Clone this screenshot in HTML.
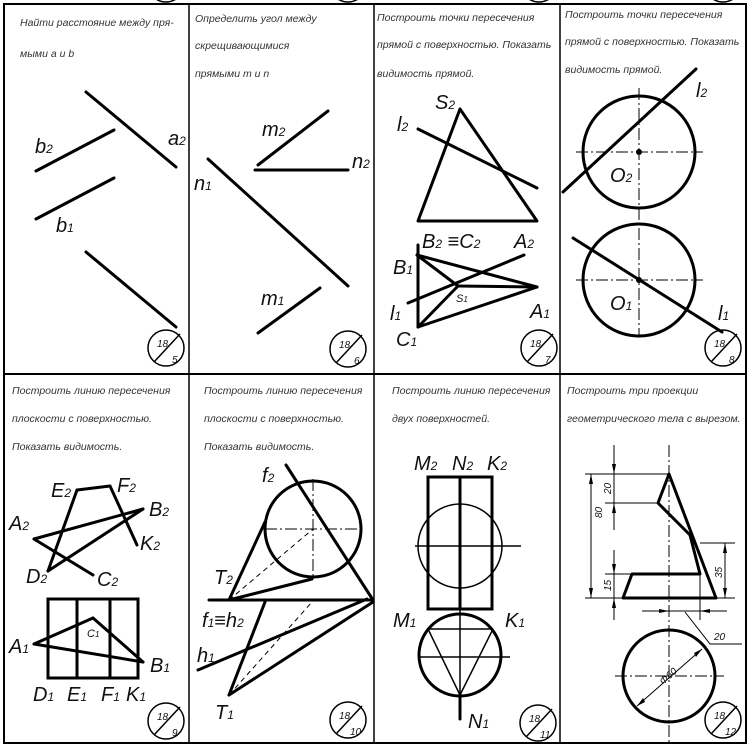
<!DOCTYPE html>
<html><head><meta charset="utf-8"><style>
html,body{margin:0;padding:0;background:#fff}
svg{display:block}
text{font-family:"Liberation Sans","DejaVu Sans",sans-serif;font-style:italic;fill:#111}
.t{font-size:10.5px;fill:#333}
.L{font-size:20px}
.s{font-size:11px}
</style></head><body>
<svg width="750" height="747" viewBox="0 0 750 747" xmlns="http://www.w3.org/2000/svg">
<g fill="none" stroke="#000">
<rect x="4" y="4" width="742" height="739" stroke-width="2"/>
<line x1="4" y1="374" x2="746" y2="374" stroke-width="2"/>
<line x1="189" y1="4" x2="189" y2="743" stroke-width="1.5"/>
<line x1="374" y1="4" x2="374" y2="743" stroke-width="1.5"/>
<line x1="560" y1="4" x2="560" y2="743" stroke-width="1.5"/>
<circle cx="166" cy="-16" r="18" stroke-width="1.5"/><circle cx="348" cy="-16" r="18" stroke-width="1.5"/>
<circle cx="539" cy="-16" r="18" stroke-width="1.5"/><circle cx="723" cy="-16" r="18" stroke-width="1.5"/>

<g stroke-width="1.5">
<circle cx="166" cy="348" r="18"/><line x1="154" y1="362" x2="180" y2="334"/>
<circle cx="348" cy="349" r="18"/><line x1="336" y1="363" x2="362" y2="335"/>
<circle cx="539" cy="348" r="18"/><line x1="527" y1="362" x2="553" y2="334"/>
<circle cx="723" cy="348" r="18"/><line x1="711" y1="362" x2="737" y2="334"/>
<circle cx="166" cy="721" r="18"/><line x1="154" y1="735" x2="180" y2="707"/>
<circle cx="348" cy="720" r="18"/><line x1="336" y1="734" x2="362" y2="706"/>
<circle cx="538" cy="723" r="18"/><line x1="526" y1="737" x2="552" y2="709"/>
<circle cx="723" cy="720" r="18"/><line x1="711" y1="734" x2="737" y2="706"/>
</g>

<g stroke-width="3" stroke-linecap="round">
<line x1="86" y1="92" x2="176" y2="167"/>
<line x1="36" y1="171" x2="114" y2="130"/>
<line x1="36" y1="219" x2="114" y2="178"/>
<line x1="86" y1="252" x2="176" y2="327"/>
<line x1="258" y1="165" x2="328" y2="111"/>
<line x1="255" y1="170" x2="348" y2="170"/>
<line x1="208" y1="159" x2="348" y2="286"/>
<line x1="258" y1="333" x2="320" y2="288"/>
<polygon points="460,109 418,221 537,221" stroke-linejoin="round"/>
<line x1="418" y1="129" x2="537" y2="188"/>
<line x1="418" y1="245" x2="418" y2="327"/>
<line x1="417" y1="255" x2="537" y2="287"/>
<line x1="418" y1="327" x2="537" y2="287"/>
<line x1="417" y1="255" x2="458" y2="286"/>
<line x1="418" y1="327" x2="458" y2="286"/>
<line x1="458" y1="286" x2="537" y2="287"/>
<line x1="408" y1="303" x2="524" y2="255"/>
<circle cx="639" cy="152" r="56"/>
<circle cx="639" cy="280" r="56"/>
<line x1="563" y1="192" x2="696" y2="69"/>
<line x1="573" y1="238" x2="722" y2="332"/>
<line x1="77" y1="490" x2="110" y2="486"/>
<line x1="110" y1="486" x2="137" y2="545"/>
<line x1="77" y1="490" x2="48" y2="571"/>
<line x1="34" y1="539" x2="143" y2="509"/>
<line x1="34" y1="539" x2="93" y2="575"/>
<line x1="48" y1="571" x2="143" y2="509"/>
<rect x="48" y="599" width="90" height="79"/>
<line x1="77" y1="599" x2="77" y2="678"/>
<line x1="110" y1="599" x2="110" y2="678"/>
<line x1="34" y1="644" x2="93" y2="618"/>
<line x1="93" y1="618" x2="143" y2="662"/>
<line x1="34" y1="644" x2="143" y2="662"/>
<circle cx="313" cy="529" r="48"/>
<line x1="229" y1="600" x2="265" y2="522"/>
<line x1="229" y1="600" x2="312" y2="579"/>
<line x1="286" y1="465" x2="373" y2="600"/>
<line x1="209" y1="600" x2="373" y2="600"/>
<line x1="198" y1="670" x2="367" y2="599"/>
<line x1="229" y1="695" x2="265" y2="602"/>
<line x1="229" y1="695" x2="373" y2="602"/>
<rect x="428" y="477" width="64" height="132"/>
<line x1="460" y1="477" x2="460" y2="609"/>
<circle cx="460" cy="655" r="41"/>
<line x1="460" y1="695" x2="460" y2="719"/>
<polyline points="669,474 658,503 690,535 700,574 632,574 623,598 716,598 669,474" stroke-linejoin="round"/>
<circle cx="669" cy="676" r="46"/>
</g>

<g stroke-width="1">
<g stroke-dasharray="12,3,2,3">
<line x1="576" y1="152" x2="703" y2="152"/><line x1="639" y1="88" x2="639" y2="336"/>
<line x1="576" y1="280" x2="703" y2="280"/>
<line x1="265" y1="529" x2="361" y2="529"/><line x1="313" y1="479" x2="313" y2="579"/>
<line x1="669" y1="445" x2="669" y2="745"/><line x1="615" y1="676" x2="724" y2="676"/>
</g>
<g stroke-dasharray="5,4">
<line x1="229" y1="600" x2="313" y2="529"/>
<line x1="229" y1="695" x2="312" y2="602"/>
</g>
<g stroke-width="1.5">
<circle cx="460" cy="546" r="42"/>
<line x1="415" y1="546" x2="521" y2="546"/>
<line x1="428" y1="629" x2="493" y2="629"/>
<line x1="428" y1="629" x2="460" y2="695"/>
<line x1="493" y1="629" x2="460" y2="695"/>
<line x1="460" y1="609" x2="460" y2="695"/>
<line x1="419" y1="657" x2="510" y2="657"/>
</g>
<line x1="585" y1="474" x2="669" y2="474"/>
<line x1="605" y1="503" x2="658" y2="503"/>
<line x1="605" y1="574" x2="632" y2="574"/>
<line x1="585" y1="598" x2="623" y2="598"/>
<line x1="591" y1="474" x2="591" y2="598"/>
<line x1="614" y1="445" x2="614" y2="530"/>
<line x1="614" y1="550" x2="614" y2="620"/>
<line x1="700" y1="543" x2="735" y2="543"/>
<line x1="716" y1="598" x2="735" y2="598"/>
<line x1="725" y1="543" x2="725" y2="598"/>
<line x1="700" y1="574" x2="700" y2="620"/>
<line x1="642" y1="611" x2="727" y2="611"/>
<polyline points="685,612 710,644 742,644"/>
<line x1="637" y1="706" x2="702" y2="649"/>
</g>
<g fill="#000" stroke="none">
<circle cx="639" cy="152" r="3"/><circle cx="639" cy="280" r="3"/>
<polygon points="591,474 589,484 593,484"/><polygon points="591,598 589,588 593,588"/>
<polygon points="614,474 612,464 616,464"/><polygon points="614,503 612,513 616,513"/>
<polygon points="614,574 612,564 616,564"/><polygon points="614,598 612,608 616,608"/>
<polygon points="725,543 723,553 727,553"/><polygon points="725,598 723,588 727,588"/>
<polygon points="669,611 659,609 659,613"/><polygon points="700,611 710,609 710,613"/>
<polygon points="637,706 643,698 645,702"/><polygon points="702,649 696,657 694,653"/>
</g>
</g>

<text class="t" x="20" y="26">Найти расстояние между пря-</text>
<text class="t" x="20" y="57">мыми a и b</text>
<text class="t" x="195" y="22">Определить угол между</text>
<text class="t" x="195" y="49">скрещивающимися</text>
<text class="t" x="195" y="77">прямыми m и n</text>
<text class="t" x="377" y="21">Построить точки пересечения</text>
<text class="t" x="377" y="48">прямой с поверхностью. Показать</text>
<text class="t" x="377" y="77">видимость прямой.</text>
<text class="t" x="565" y="18">Построить точки пересечения</text>
<text class="t" x="565" y="45">прямой с поверхностью. Показать</text>
<text class="t" x="565" y="73">видимость прямой.</text>
<text class="t" x="12" y="394">Построить линию пересечения</text>
<text class="t" x="12" y="422">плоскости с поверхностью.</text>
<text class="t" x="12" y="450">Показать видимость.</text>
<text class="t" x="204" y="394">Построить линию пересечения</text>
<text class="t" x="204" y="422">плоскости с поверхностью.</text>
<text class="t" x="204" y="450">Показать видимость.</text>
<text class="t" x="392" y="394">Построить линию пересечения</text>
<text class="t" x="392" y="422">двух поверхностей.</text>
<text class="t" x="567" y="394">Построить три проекции</text>
<text class="t" x="567" y="422">геометрического тела с вырезом.</text>

<text class="L" x="35" y="153">b<tspan font-size="12">2</tspan></text>
<text class="L" x="168" y="145">a<tspan font-size="12">2</tspan></text>
<text class="L" x="56" y="232">b<tspan font-size="12">1</tspan></text>
<text class="L" x="262" y="136">m<tspan font-size="12">2</tspan></text>
<text class="L" x="352" y="168">n<tspan font-size="12">2</tspan></text>
<text class="L" x="194" y="190">n<tspan font-size="12">1</tspan></text>
<text class="L" x="261" y="305">m<tspan font-size="12">1</tspan></text>
<text class="L" x="435" y="109">S<tspan font-size="12">2</tspan></text>
<text class="L" x="397" y="131">l<tspan font-size="12">2</tspan></text>
<text class="L" x="422" y="248">B<tspan font-size="12">2</tspan> ≡C<tspan font-size="12">2</tspan></text>
<text class="L" x="514" y="248">A<tspan font-size="12">2</tspan></text>
<text class="L" x="393" y="274">B<tspan font-size="12">1</tspan></text>
<text class="L" x="390" y="320">l<tspan font-size="12">1</tspan></text>
<text class="s" x="456" y="302">S<tspan font-size="8">1</tspan></text>
<text class="L" x="530" y="318">A<tspan font-size="12">1</tspan></text>
<text class="L" x="396" y="346">C<tspan font-size="12">1</tspan></text>
<text class="L" x="696" y="97">l<tspan font-size="12">2</tspan></text>
<text class="L" x="610" y="182">O<tspan font-size="12">2</tspan></text>
<text class="L" x="610" y="310">O<tspan font-size="12">1</tspan></text>
<text class="L" x="718" y="320">l<tspan font-size="12">1</tspan></text>
<text class="L" x="51" y="497">E<tspan font-size="12">2</tspan></text>
<text class="L" x="117" y="492">F<tspan font-size="12">2</tspan></text>
<text class="L" x="149" y="516">B<tspan font-size="12">2</tspan></text>
<text class="L" x="9" y="530">A<tspan font-size="12">2</tspan></text>
<text class="L" x="140" y="550">K<tspan font-size="12">2</tspan></text>
<text class="L" x="26" y="583">D<tspan font-size="12">2</tspan></text>
<text class="L" x="97" y="586">C<tspan font-size="12">2</tspan></text>
<text class="L" x="9" y="653">A<tspan font-size="12">1</tspan></text>
<text class="s" x="87" y="637">C<tspan font-size="8">1</tspan></text>
<text class="L" x="150" y="672">B<tspan font-size="12">1</tspan></text>
<text class="L" x="33" y="701">D<tspan font-size="12">1</tspan></text>
<text class="L" x="67" y="701">E<tspan font-size="12">1</tspan></text>
<text class="L" x="101" y="701">F<tspan font-size="12">1</tspan></text>
<text class="L" x="126" y="701">K<tspan font-size="12">1</tspan></text>
<text class="L" x="262" y="482">f<tspan font-size="12">2</tspan></text>
<text class="L" x="214" y="584">T<tspan font-size="12">2</tspan></text>
<text class="L" x="202" y="627">f<tspan font-size="12">1</tspan>≡h<tspan font-size="12">2</tspan></text>
<text class="L" x="197" y="662">h<tspan font-size="12">1</tspan></text>
<text class="L" x="215" y="719">T<tspan font-size="12">1</tspan></text>
<text class="L" x="414" y="470">M<tspan font-size="12">2</tspan></text>
<text class="L" x="452" y="470">N<tspan font-size="12">2</tspan></text>
<text class="L" x="487" y="470">K<tspan font-size="12">2</tspan></text>
<text class="L" x="393" y="627">M<tspan font-size="12">1</tspan></text>
<text class="L" x="505" y="627">K<tspan font-size="12">1</tspan></text>
<text class="L" x="468" y="728">N<tspan font-size="12">1</tspan></text>

<g font-size="10">
<text x="157" y="347">18</text><text x="172" y="363">5</text>
<text x="339" y="348">18</text><text x="354" y="364">6</text>
<text x="530" y="347">18</text><text x="545" y="363">7</text>
<text x="714" y="347">18</text><text x="729" y="363">8</text>
<text x="157" y="720">18</text><text x="172" y="736">9</text>
<text x="339" y="719">18</text><text x="350" y="735">10</text>
<text x="529" y="722">18</text><text x="540" y="738">11</text>
<text x="714" y="719">18</text><text x="725" y="735">12</text>
</g>
<g font-size="10">
<text transform="translate(602,518) rotate(-90)">80</text>
<text transform="translate(611,494) rotate(-90)">20</text>
<text transform="translate(611,591) rotate(-90)">15</text>
<text transform="translate(722,578) rotate(-90)">35</text>
<text x="714" y="640">20</text>
<text transform="translate(663,685) rotate(-41)">Φ60</text>
</g>
</svg>
</body></html>
